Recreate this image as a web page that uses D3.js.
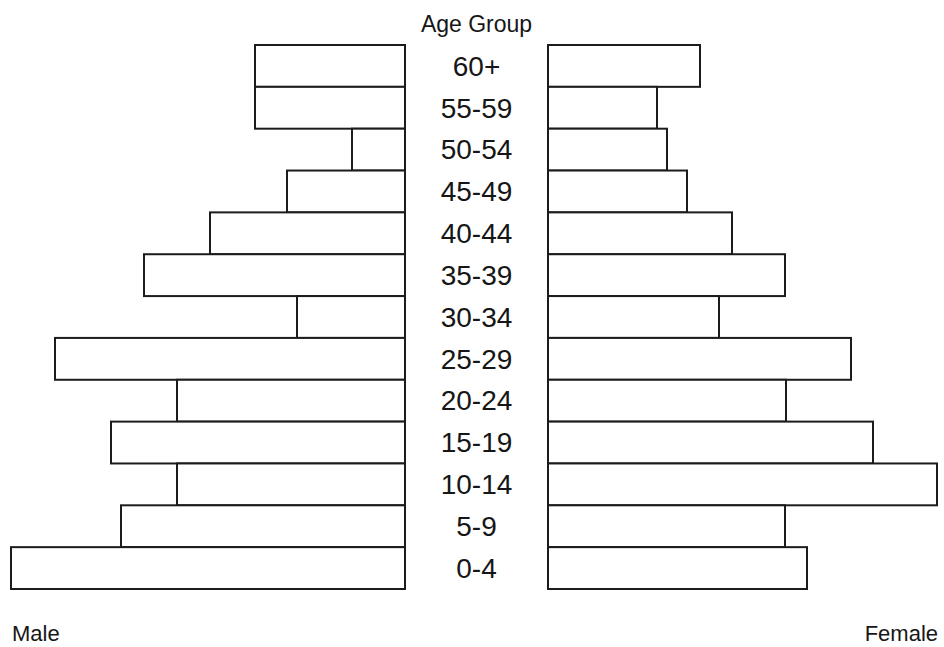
<!DOCTYPE html>
<html>
<head>
<meta charset="utf-8">
<script src="https://cdn.jsdelivr.net/npm/d3@7"></script>
<style>
  html, body { margin: 0; padding: 0; background: #fff; }
  svg { display: block; }
  text { font-family: "Liberation Sans", Arial, Helvetica, sans-serif; fill: #161616; }
</style>
</head>
<body>
<script>
// Age groups, listed from the oldest (top) to the youngest (bottom)
const ageGroups = ["60+", "55-59", "50-54", "45-49", "40-44", "35-39", "30-34",
                   "25-29", "20-24", "15-19", "10-14", "5-9", "0-4"];
// Population share by age group
const maleValues   = [15.0, 15.0, 5.3, 11.8, 19.5, 26.1, 10.8, 35.0, 22.8, 29.4, 22.8, 28.4, 39.4];
const femaleValues = [15.2, 10.9, 11.9, 13.9, 18.4, 23.7, 17.1, 30.3, 23.8, 32.5, 38.9, 23.7, 25.9];
const axisTitle = "Age Group";
const sideLabels = ["Male", "Female"];

const width = 944, height = 647;
const svg = d3.select("body").append("svg")
  .attr("width", width).attr("height", height);

const maleBase = 405, femaleBase = 548;
const y = d3.scaleBand().domain(ageGroups).range([45, 589]).paddingInner(0).paddingOuter(0);
const xMale = d3.scaleLinear().domain([0, 40]).range([maleBase, maleBase - 400]);
const xFemale = d3.scaleLinear().domain([0, 40]).range([femaleBase, femaleBase + 400]);

const maleData = ageGroups.map((g, i) => ({ g, v: maleValues[i] }));
const femaleData = ageGroups.map((g, i) => ({ g, v: femaleValues[i] }));

const barStyle = sel => sel
  .attr("fill", "#fff")
  .attr("stroke", "#1c1c1c")
  .attr("stroke-width", 2);

svg.append("g").selectAll("rect").data(maleData).join("rect")
  .attr("x", d => xMale(d.v))
  .attr("y", d => y(d.g))
  .attr("width", d => xMale(0) - xMale(d.v))
  .attr("height", y.bandwidth())
  .call(barStyle);

svg.append("g").selectAll("rect").data(femaleData).join("rect")
  .attr("x", xFemale(0))
  .attr("y", d => y(d.g))
  .attr("width", d => xFemale(d.v) - xFemale(0))
  .attr("height", y.bandwidth())
  .call(barStyle);

// Age group labels down the centre
const cx = (maleBase + femaleBase) / 2;
svg.append("g").selectAll("text").data(ageGroups).join("text")
  .attr("x", cx)
  .attr("y", d => y(d) + y.bandwidth() / 2)
  .attr("dy", "0.35em")
  .attr("text-anchor", "middle")
  .attr("font-size", 28)
  .text(d => d);

svg.append("text")
  .attr("x", cx).attr("y", 32)
  .attr("text-anchor", "middle")
  .attr("font-size", 23)
  .text(axisTitle);

svg.append("text")
  .attr("x", 12).attr("y", 641)
  .attr("font-size", 22)
  .text(sideLabels[0]);

svg.append("text")
  .attr("x", 938).attr("y", 641)
  .attr("text-anchor", "end")
  .attr("font-size", 22)
  .text(sideLabels[1]);
</script>
</body>
</html>
